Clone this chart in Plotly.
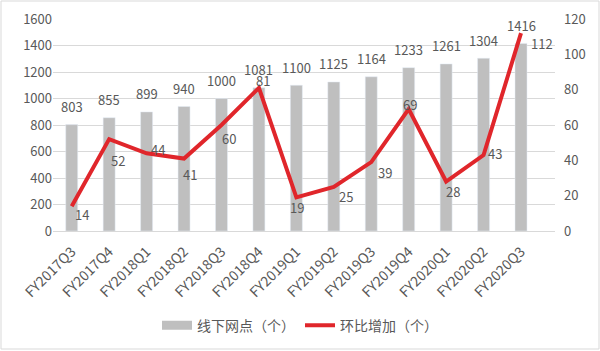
import plotly.graph_objects as go

categories = ["FY2017Q3", "FY2017Q4", "FY2018Q1", "FY2018Q2", "FY2018Q3", "FY2018Q4",
              "FY2019Q1", "FY2019Q2", "FY2019Q3", "FY2019Q4", "FY2020Q1", "FY2020Q2", "FY2020Q3"]
stores = [803, 855, 899, 940, 1000, 1081, 1100, 1125, 1164, 1233, 1261, 1304, 1416]
increase = [14, 52, 44, 41, 60, 81, 19, 25, 39, 69, 28, 43, 112]

# label offsets (pixels) for the line labels: (dx, dy down)
line_label_dx = [10, 9, 11, 6, 8, 4, 1, 12, 14, 1, 7, 11, 21]
line_label_dy = [8, 21, -4, 16, 13, -7, 10, 10, 10, -5, 10, -2, 10]

font_family = "Noto Sans CJK SC, Noto Sans, sans-serif"
text_color = "#595959"
bar_color = "#BFBFBF"
line_color = "#E0262B"

fig = go.Figure()
fig.add_trace(go.Bar(
    x=categories, y=stores, name="线下网点（个）", showlegend=False,
    marker_color=bar_color, width=0.32,
))
fig.add_trace(go.Scatter(
    x=categories, y=increase, name="环比增加（个）", yaxis="y2", showlegend=False,
    mode="lines", line=dict(color=line_color, width=4),
    cliponaxis=False,
))
# legend entries
fig.add_trace(go.Scatter(x=[None], y=[None], mode="lines", name="线下网点（个）",
                         line=dict(color=bar_color, width=9)))
fig.add_trace(go.Scatter(x=[None], y=[None], mode="lines", name="环比增加（个）",
                         line=dict(color=line_color, width=4)))

annotations = []
for c, v in zip(categories, stores):
    annotations.append(dict(x=c, y=v, xref="x", yref="y", text=str(v), showarrow=False,
                            yshift=18, font=dict(size=13, color=text_color)))
for c, v, dx, dy in zip(categories, increase, line_label_dx, line_label_dy):
    annotations.append(dict(x=c, y=v, xref="x", yref="y2", text=str(v), showarrow=False,
                            xshift=dx, yshift=-dy, font=dict(size=13, color=text_color)))

fig.update_layout(
    width=600, height=351,
    margin=dict(l=53, r=45, t=19, b=120),
    paper_bgcolor="white", plot_bgcolor="white",
    font=dict(family=font_family, size=13, color=text_color),
    showlegend=True,
    legend=dict(orientation="h", x=0.5, xanchor="center", xref="container",
                y=0.072, yanchor="middle", yref="container",
                font=dict(size=14, color=text_color)),
    xaxis=dict(tickangle=-45, showgrid=False, showline=True, linecolor="#D9D9D9",
               ticks="", automargin=False, ticklabelstandoff=6,
               tickfont=dict(size=14, color=text_color)),
    yaxis=dict(range=[0, 1600], dtick=200, showgrid=True, gridcolor="#D9D9D9",
               zeroline=False, ticks="", automargin=False,
               tickfont=dict(size=13, color=text_color)),
    yaxis2=dict(range=[0, 120], dtick=20, overlaying="y", side="right", showgrid=False,
                zeroline=False, ticks="", automargin=False, ticklabelstandoff=8,
                tickfont=dict(size=13, color=text_color)),
    annotations=annotations,
    shapes=[dict(type="rect", xref="paper", yref="paper", x0=-52/502, x1=1+44/502,
                 y0=-118/212, y1=1+18/212, line=dict(color="#D9D9D9", width=1))],
)

fig.write_html("out.html")
